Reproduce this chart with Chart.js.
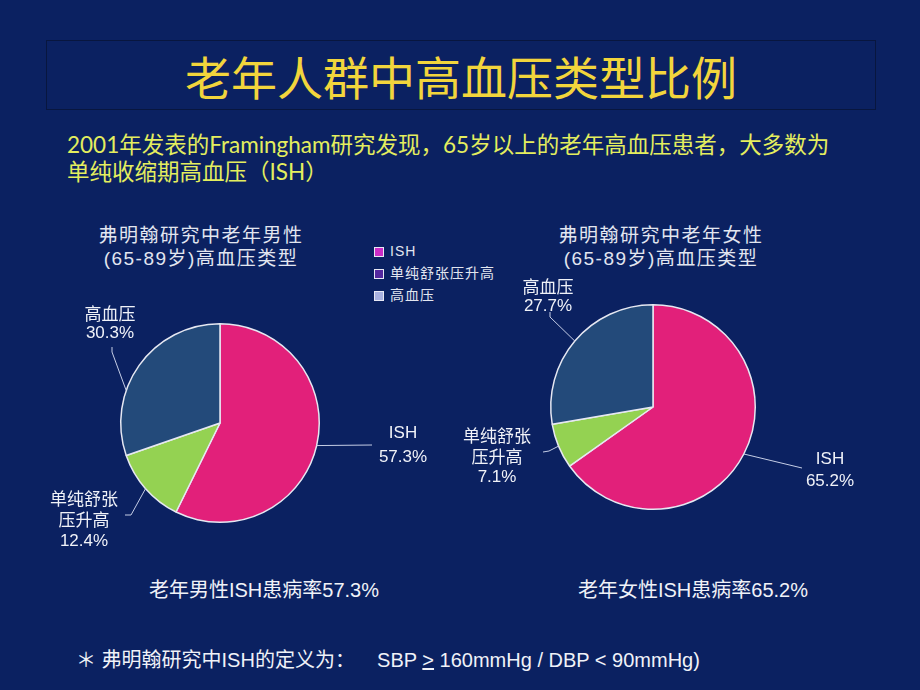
<!DOCTYPE html>
<html>
<head>
<meta charset="utf-8">
<script src="https://cdn.jsdelivr.net/npm/chart.js@4.4.1/dist/chart.umd.min.js"></script>
<style>
html, body { margin: 0; padding: 0; }
body {
    width: 920px; height: 690px; position: relative; overflow: hidden;
    background: #0b2161;
    font-family: "Liberation Sans", "Noto Sans CJK SC", sans-serif;
    color: #eef0f6;
}
.abs { position: absolute; white-space: nowrap; }
#titleBox {
    left: 46px; top: 40px; width: 828px; height: 68px;
    border: 1px solid #08163f;
    text-align: center; line-height: 68px;
    font-family: "Noto Sans CJK SC", sans-serif;
    font-size: 46px; color: #f2d53c;
}
#subtitle {
    left: 67px; top: 131px; line-height: 27px;
    font-family: "Lato", "Noto Sans CJK SC", sans-serif;
    font-size: 22.5px; color: #e4ee5e;
}
.pieTitle {
    width: 320px; text-align: center; line-height: 23px;
    font-family: "Liberation Sans", "Noto Sans CJK SC", sans-serif;
    font-size: 19px; letter-spacing: 1.5px; color: #e2e6f0;
}
#legend { left: 374px; top: 242px; font-size: 14px; letter-spacing: 1px; color: #e2e6f0; }
#legend div { height: 22px; line-height: 18px; }
#legend span.box {
    display: inline-block; width: 8px; height: 8px; margin-right: 6px;
    border: 1px solid #e8e8f4; vertical-align: -1px;
}
.caption { width: 320px; text-align: center; font-size: 20px; color: #f0f2f8; }
#foot { left: 76px; top: 644px; font-size: 20px; color: #f0f2f8; }
canvas { position: absolute; }
</style>
</head>
<body>
<div id="titleBox" class="abs">老年人群中高血压类型比例</div>
<div id="subtitle" class="abs">2001年发表的Framingham研究发现，65岁以上的老年高血压患者，大多数为<br>单纯收缩期高血压（ISH）</div>

<div class="abs pieTitle" style="left:41px; top:224px;">弗明翰研究中老年男性<br>(65-89岁)高血压类型</div>
<div class="abs pieTitle" style="left:501px; top:224px;">弗明翰研究中老年女性<br>(65-89岁)高血压类型</div>
<div id="legend" class="abs"></div>

<canvas id="pieMale" width="460" height="290" style="left:0; top:280px;"></canvas>
<canvas id="pieFemale" width="460" height="290" style="left:460px; top:270px;"></canvas>

<div class="abs caption" style="left:104px; top:574px;">老年男性ISH患病率57.3%</div>
<div class="abs caption" style="left:533px; top:574px;">老年女性ISH患病率65.2%</div>
<div id="foot" class="abs">＊ 弗明翰研究中ISH的定义为：&nbsp;&nbsp;&nbsp; SBP <u>&gt;</u> 160mmHg / DBP &lt; 90mmHg)</div>

<script>
const categories = ['ISH', '单纯舒张压升高', '高血压'];
const maleValues = [57.3, 12.4, 30.3];
const femaleValues = [65.2, 7.1, 27.7];

const sliceColors = ['#e2207a', '#94d252', '#234a7a'];
const legendColors = ['#cc2cc6', '#55289e', '#a9b1e0'];

// legend
const legendEl = document.getElementById('legend');
categories.forEach((c, i) => {
    const row = document.createElement('div');
    row.innerHTML = '<span class="box" style="background:' + legendColors[i] + '"></span>' + c;
    legendEl.appendChild(row);
});

// outside labels with leader lines, positions relative to pie centre
const outLabels = {
    id: 'outLabels',
    afterDatasetsDraw(chart, args, opts) {
        const ctx = chart.ctx;
        const meta = chart.getDatasetMeta(0);
        const vals = chart.data.datasets[0].data;
        meta.data.forEach((arc, i) => {
            const L = opts.layout[i];
            const a = arc.startAngle + (arc.endAngle - arc.startAngle) * L.at;
            const cx = arc.x, cy = arc.y, r = arc.outerRadius;
            ctx.save();
            ctx.strokeStyle = '#c6cee6';
            ctx.lineWidth = 1;
            ctx.beginPath();
            ctx.moveTo(cx + Math.cos(a) * r, cy + Math.sin(a) * r);
            L.path.forEach(p => ctx.lineTo(cx + p[0], cy + p[1]));
            ctx.stroke();

            const name = chart.data.labels[i];
            let lines = L.wrap ? [name.slice(0, L.wrap), name.slice(L.wrap)] : [name];
            lines.push(vals[i].toFixed(1) + '%');
            ctx.fillStyle = '#f0f2f8';
            ctx.font = '17px "Liberation Sans", "Noto Sans CJK SC", sans-serif';
            ctx.textAlign = 'center';
            ctx.textBaseline = 'middle';
            lines.forEach((t, k) => ctx.fillText(t, cx + L.x, cy + L.ys[k]));
            ctx.restore();
        });
    }
};

function makePie(id, values, padding, layout) {
    const ctx = document.getElementById(id).getContext('2d');
    return new Chart(ctx, {
        type: 'pie',
        data: {
            labels: categories,
            datasets: [{
                data: values,
                backgroundColor: sliceColors,
                borderColor: '#e6e8f2',
                borderWidth: 1.5
            }]
        },
        options: {
            responsive: false,
            animation: false,
            devicePixelRatio: 1,
            layout: { padding: padding },
            plugins: {
                legend: { display: false },
                tooltip: { enabled: false },
                outLabels: { layout: layout }
            }
        },
        plugins: [outLabels]
    });
}

makePie('pieMale', maleValues, { left: 120, right: 140, top: 43, bottom: 47 }, [
    { at: 0.5, path: [[152, 22]], x: 183, ys: [10, 34] },
    { at: 0.5, path: [[-89, 92], [-95, 92]], x: -136, wrap: 4, ys: [77, 98, 118] },
    { at: 0.35, path: [[-108, -71], [-108, -76]], x: -110, ys: [-108, -90] }
]);

makePie('pieFemale', femaleValues, { left: 90, right: 164, top: 34, bottom: 50 }, [
    { at: 0.5, path: [[149, 61]], x: 177, ys: [52, 74] },
    { at: 0.5, path: [[-104, 44], [-110, 45]], x: -156, wrap: 4, ys: [30, 51, 70] },
    { at: 0.5, path: [[-103, -90], [-103, -95]], x: -105, ys: [-119, -101] }
]);
</script>
</body>
</html>
